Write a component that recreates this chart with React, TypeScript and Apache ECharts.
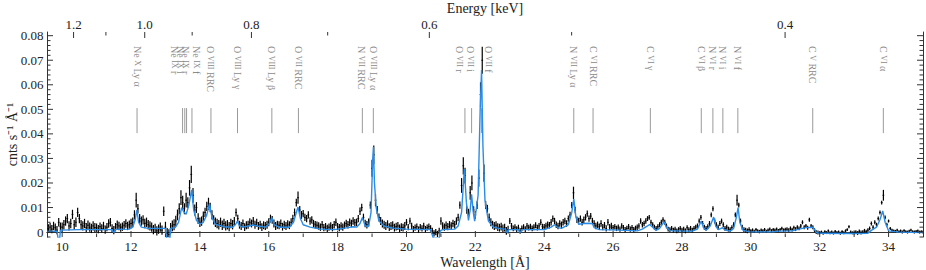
import React, { useEffect, useRef } from "react";
import * as echarts from "echarts";

const HC = 12.398; // keV * Angstrom
const X_MIN = 9.56;
const X_MAX = 35.0;
const Y_MIN = -0.002;
const Y_MAX = 0.0815;

const WAVE_LABELS = [10, 12, 14, 16, 18, 20, 22, 24, 26, 28, 30, 32, 34];
const WAVE_MINOR = [11, 13, 15, 17, 19, 21, 23, 25, 27, 29, 31, 33];
const ENERGY_LABELS = [1.2, 1.0, 0.8, 0.6, 0.4];
const ENERGY_MINOR = [1.1, 0.9, 0.7, 0.5];
const Y_LABELS = [0, 0.01, 0.02, 0.03, 0.04, 0.05, 0.06, 0.07, 0.08];
const Y_MINOR = [-0.002, 0.002, 0.004, 0.006, 0.008, 0.012, 0.014, 0.016, 0.018, 0.022, 0.024, 0.026, 0.028, 0.032, 0.034, 0.036, 0.038, 0.042, 0.044, 0.046, 0.048, 0.052, 0.054, 0.056, 0.058, 0.062, 0.064, 0.066, 0.068, 0.072, 0.074, 0.076, 0.078];

// observed spectrum, bins of 0.05 A starting at 9.60 A, in units of 1e-4 cnts/s/A
const DATA_START = 9.6;
const DATA_STEP = 0.05;
const COUNTS = [
  15, 20, 12, 25, 18, 8, 40, 22,
  20, 30, 45, 55, 25, 35, 72, 30, 40, 80, 55, 30, 25, 35, 18, 28, 20, 15, 25, 18,
  18, 12, 22, 15, 25, 10, 20, 35, 40, 15, 8, 20, 30, 25, 18, 22, 28, 35, 25, 30,
  35, 40, 70, 130, 95, 55, 45, 50, 35, 40, 30, 25, 20, 10, 15, 5, 12, 20, 8, 85,
  20, -5, -10, 15, 25, 30, 45, 70, 95, 140, 120, 95, 130, 120, 180, 235, 150, 90, 100, 55,
  40, 45, 65, 80, 105, 115, 100, 70, 50, 40, 35, 30, 40, 28, 35, 25, 30, 22, 35, 30,
  45, 80, 55, 30, 25, 35, 20, 28, 30, 40, 35, 45, 30, 38, 25, 30, 20, 28, 25, 30,
  40, 55, 50, 35, 25, 30, 28, 35, 22, 30, 25, 32, 28, 40, 55, 80, 120, 140, 90, 70,
  75, 60, 55, 70, 45, 50, 35, 30, 28, 25, 20, 30, 18, 22, 15, 20, 25, 18, 30, 40,
  22, 18, 25, 20, 28, 35, 30, 40, 35, 45, 38, 40, 55, 85, 100, 60, 35, 30, 40, 110,
  260, 315, 130, 90, 60, 45, 35, 30, 25, 32, 20, 25, 28, 18, 22, 25, 15, 20, 18, 25,
  40, 20, 45, 25, 12, 18, 22, 10, 20, 15, 25, 12, 18, 22, 15, 5, -5, 0, -8, 5,
  45, 25, 20, 28, 22, 30, 25, 35, 30, 45, 60, 110, 190, 270, 230, 90, 80, 160, 200, 90,
  70, 110, 220, 560, 700, 240, 110, 95, 60, 40, 30, 25, 28, 20, 18, 22, 15, 18, 5, 10,
  45, 25, 15, 20, 12, 18, 5, 15, 20, 12, 25, 18, 22, 15, 20, 28, 18, 25, 40, 22,
  20, 25, 30, 28, 40, 55, 45, 30, 25, 35, 30, 40, 45, 35, 55, 70, 110, 160, 90, 50,
  45, 55, 40, 50, 60, 75, 55, 65, 45, 35, 25, 30, 22, 35, 20, 28, 15, 40, 20, 25,
  18, 22, 15, 20, 12, 25, 18, 10, 15, 22, 12, 18, 10, 15, 20, 25, 45, 30, 35, 45,
  55, 60, 40, 30, 20, 15, 22, 30, 40, 50, 40, 25, 12, 10, 15, 8, 12, 5, 10, 15,
  8, 12, 5, 18, 10, 15, 8, 15, 20, 25, 45, 60, 35, 20, 15, 22, 35, 70, 95, 45,
  30, 20, 35, 45, 30, 15, 20, 12, 10, 18, 30, 70, 130, 110, 45, 20, 10, 8, 5, 10,
  5, 8, 3, 10, 5, 2, 8, 5, 10, 3, 8, 12, 5, 10, 8, 12, 6, 10, 15, 8,
  10, 12, 8, 15, 10, 18, 12, 20, 15, 25, 40, 20, 25, 18, 50, 25, 20, 8, 0, -2,
  -3, 0, -5, 2, -2, 5, -3, 0, -4, 3, -2, 0, -5, 2, -3, 5, 10, 22, 0, -3,
  -2, 0, -4, 3, -2, 0, 5, 2, 8, 15, 35, 20, 40, 30, 55, 80, 120, 150, 60, 30,
  45, 15, 8, 5, 3, 8, 2, 5, 0, 6, 2, 0, 4, 8, 2, 0, 3, 5, 0, 2,
  0,
];
// 1-sigma errors (1e-4 units) per whole Angstrom, starting at 9 A
const ERR_FIRST_ANGSTROM = 9;
const ERR_BY_ANGSTROM = [17, 19, 17, 19, 22, 19, 16, 16, 15, 15, 16, 13, 15, 16, 12, 13, 13, 11, 10, 10, 10, 7, 8, 6, 8, 6, 6];
// larger errors on the bright line bins [wavelength, error]
const PEAK_ERR = [
  [12.15, 30], [13.45, 30], [13.5, 28], [13.6, 30], [13.7, 32], [13.75, 35], [13.8, 30],
  [14.25, 25], [16.85, 25], [19.0, 35], [19.05, 38], [19.1, 25], [21.6, 30], [21.65, 35],
  [21.7, 32], [21.85, 28], [21.9, 30], [22.1, 35], [22.15, 50], [22.2, 55], [22.25, 35],
  [24.85, 25], [29.6, 22], [33.85, 22],
];

// best-fit model curve [wavelength A, 1e-4 cnts/s/A]
const MODEL = [
  [9.56, 3], [9.85, 4], [9.88, -25], [9.93, -25], [9.95, 8], [10.5, 10], [11.0, 10], [11.45, 10],
  [11.48, 0], [11.52, 0], [11.55, 11], [11.95, 12], [12.05, 20], [12.12, 50], [12.17, 90],
  [12.22, 40], [12.3, 20], [12.5, 15], [13.0, 15], [13.03, -25], [13.13, -25], [13.15, 15],
  [13.28, 18], [13.38, 40], [13.47, 100], [13.52, 85], [13.6, 72], [13.68, 110], [13.76, 172],
  [13.82, 90], [13.9, 48], [14.0, 32], [14.1, 40], [14.2, 70], [14.28, 116], [14.35, 60],
  [14.45, 32], [14.7, 22], [14.95, 20], [15.03, 30], [15.09, 45], [15.15, 25], [15.25, 20],
  [15.45, 26], [15.55, 29], [15.7, 24], [15.9, 20], [16.02, 35], [16.09, 59], [16.16, 30],
  [16.3, 20], [16.6, 20], [16.72, 40], [16.8, 80], [16.85, 102], [16.92, 55], [17.0, 30],
  [17.2, 20], [17.5, 12], [17.9, 10], [18.3, 18], [18.45, 22], [18.55, 20], [18.65, 35],
  [18.72, 59], [18.8, 25], [18.9, 22], [18.97, 80], [19.02, 300], [19.04, 346], [19.07, 200],
  [19.12, 100], [19.2, 45], [19.35, 25], [19.6, 16], [20.0, 12], [20.7, 10], [20.78, -25],
  [20.95, -25], [20.98, 5], [21.05, 10], [21.4, 12], [21.5, 25], [21.6, 80], [21.68, 257],
  [21.74, 120], [21.8, 48], [21.85, 90], [21.89, 154], [21.94, 80], [21.98, 45], [22.08, 150],
  [22.14, 500], [22.18, 660], [22.22, 350], [22.28, 127], [22.38, 45], [22.52, 20], [22.72, 14],
  [22.88, 12], [22.9, 0], [22.95, 0], [22.97, 10], [23.25, 10], [23.28, 0], [23.32, 0],
  [23.35, 10], [24.0, 10], [24.2, 20], [24.3, 30], [24.4, 18], [24.5, 15], [24.7, 30],
  [24.8, 80], [24.86, 134], [24.92, 60], [25.0, 32], [25.15, 35], [25.3, 36], [25.4, 34],
  [25.45, 18], [25.6, 10], [26.2, 8], [26.7, 5], [26.85, 12], [27.0, 25], [27.06, 31],
  [27.15, 20], [27.25, 7], [27.35, 15], [27.48, 42], [27.55, 20], [27.65, 6], [28.0, 4],
  [28.3, 4], [28.45, 12], [28.56, 45], [28.62, 20], [28.7, 7], [28.82, 25], [28.92, 61],
  [28.98, 25], [29.05, 10], [29.12, 14], [29.18, 18], [29.25, 8], [29.4, 4], [29.5, 15],
  [29.58, 60], [29.63, 100], [29.68, 40], [29.77, 8], [29.96, 1], [30.63, 1], [30.8, 4],
  [31.2, 5], [31.4, 12], [31.6, 18], [31.8, 20], [31.85, 10], [31.9, -1], [32.0, -5],
  [33.0, -6], [33.4, -5], [33.5, 7], [33.65, 20], [33.75, 50], [33.83, 86], [33.9, 40],
  [34.0, 5], [34.3, 0], [35.0, -2],
];

// line identifications
const ANNOT_ELEMENT = ["Ne", "Ne", "Ne", "Ne", "Ne", "O", "O", "O", "O", "N", "O", "O", "O", "O", "N", "C", "C", "C", "N", "N", "N", "C", "C"];
const ANNOT_STAGE = ["x", "ix", "ix", "ix", "ix", "viii", "viii", "viii", "vii", "vii", "viii", "vii", "vii", "vii", "vii", "vi", "vi", "vi", "vi", "vi", "vi", "v", "vi"];
const ANNOT_LINE = ["Ly α", "r", "i", "r", "f", "RRC", "Ly γ", "Ly β", "RRC", "RRC", "Ly α", "r", "i", "f", "Ly α", "RRC", "γ", "β", "r", "i", "f", "RRC", "α"];
const ANNOT_WAVE = [12.175, 13.497, 13.561, 13.613, 13.77, 14.321, 15.093, 16.09, 16.862, 18.718, 19.037, 21.697, 21.891, 22.181, 24.858, 25.418, 27.082, 28.561, 28.898, 29.188, 29.623, 31.798, 33.848];
const ANNOT_LABEL_WAVE = [12.175, 13.271, 13.423, 13.592, 13.915, 14.321, 15.093, 16.09, 16.862, 18.7, 19.037, 21.531, 21.862, 22.393, 24.858, 25.418, 27.082, 28.561, 28.898, 29.188, 29.623, 31.798, 33.848];

const FONT = "Liberation Serif";
const AXIS_COLOR = "#333";
const MODEL_COLOR = "#2a8ce6";

function errorFor(wave: number): number {
  for (const [w, e] of PEAK_ERR) {
    if (Math.abs(w - wave) < 1e-6) return e;
  }
  return ERR_BY_ANGSTROM[Math.floor(wave) - ERR_FIRST_ANGSTROM];
}

export default function App() {
  const ref = useRef<HTMLDivElement>(null);

  useEffect(() => {
    if (!ref.current) return;
    const chart = echarts.init(ref.current, undefined, { renderer: "svg" });

    const errData = COUNTS.map((c, i) => {
      const wave = +(DATA_START + i * DATA_STEP).toFixed(2);
      const e = errorFor(wave);
      return [wave, (c - e) * 1e-4, (c + e) * 1e-4, c * 1e-4];
    });
    const modelData = MODEL.map(([w, v]) => [w, v * 1e-4]);
    const annotData = ANNOT_WAVE.map((w, i) => [w, ANNOT_LABEL_WAVE[i]]);

    const energyWaves = ENERGY_LABELS.map((e) => HC / e);
    const energyMinorWaves = ENERGY_MINOR.map((e) => HC / e);

    // tick marks: [side, value, major?]  side 0 bottom, 1 top, 2 left, 3 right
    const tickData: number[][] = [];
    WAVE_LABELS.forEach((v) => tickData.push([0, v, 1]));
    WAVE_MINOR.forEach((v) => tickData.push([0, v, 0]));
    energyWaves.forEach((v) => tickData.push([1, v, 1]));
    energyMinorWaves.forEach((v) => tickData.push([1, v, 0]));
    Y_LABELS.forEach((v) => { tickData.push([2, v, 1]); tickData.push([3, v, 1]); });
    Y_MINOR.forEach((v) => { tickData.push([2, v, 0]); tickData.push([3, v, 0]); });

    const labelStyle = { fontFamily: FONT, fontSize: 13, color: "#222" };
    const nameStyle = { fontFamily: FONT, fontSize: 14, color: "#222" };
    const line = { color: AXIS_COLOR, width: 1 };

    const baseAxis = {
      type: "value",
      axisTick: { show: false },
      splitLine: { show: false },
      nameMoveOverlap: false,
    };

    const option: any = {
      animation: false,
      grid: { left: 47, right: 3, top: 32, bottom: 33, containLabel: false, outerBoundsMode: "none" },
      xAxis: [
        {
          ...baseAxis, position: "bottom", min: X_MIN, max: X_MAX,
          axisLine: { show: true, lineStyle: line },
          axisLabel: { show: true, customValues: WAVE_LABELS, margin: 3, ...labelStyle },
          name: "Wavelength [Å]", nameLocation: "middle", nameGap: 18, nameTextStyle: nameStyle,
        },
        {
          ...baseAxis, position: "top", min: X_MIN, max: X_MAX,
          axisLine: { show: true, lineStyle: line },
          axisLabel: {
            show: true, customValues: energyWaves, margin: 1, ...labelStyle,
            formatter: (v: number) => (HC / v).toFixed(1),
          },
          name: "Energy [keV]", nameLocation: "middle", nameGap: 17, nameTextStyle: nameStyle,
        },
      ],
      yAxis: [
        {
          ...baseAxis, position: "left", min: Y_MIN, max: Y_MAX,
          axisLine: { show: true, lineStyle: line },
          axisLabel: {
            show: true, customValues: Y_LABELS, margin: 3.5, ...labelStyle,
            formatter: (v: number) => (Math.abs(v) < 1e-9 ? "0" : v.toFixed(2)),
          },
          name: "cnts s⁻¹ Å⁻¹", nameLocation: "middle", nameGap: 28, nameTextStyle: nameStyle,
        },
        {
          ...baseAxis, position: "right", min: Y_MIN, max: Y_MAX,
          axisLine: { show: true, lineStyle: line },
          axisLabel: { show: false },
        },
      ],
      series: [
        {
          type: "custom",
          name: "data",
          xAxisIndex: 0, yAxisIndex: 0,
          clip: true,
          encode: { x: 0, y: [1, 2] },
          data: errData,
          renderItem: (params: any, api: any) => {
            const w = api.value(0);
            const lo = api.coord([w, api.value(1)]);
            const hi = api.coord([w, api.value(2)]);
            const l = api.coord([w - DATA_STEP / 2, api.value(3)]);
            const r = api.coord([w + DATA_STEP / 2, api.value(3)]);
            return {
              type: "group",
              children: [
                { type: "line", shape: { x1: lo[0], y1: lo[1], x2: hi[0], y2: hi[1] }, style: { stroke: "#000", lineWidth: 1.2 } },
                { type: "line", shape: { x1: l[0], y1: l[1], x2: r[0], y2: r[1] }, style: { stroke: "#000", lineWidth: 1 } },
              ],
            };
          },
          z: 2,
        },
        {
          type: "line",
          name: "model",
          xAxisIndex: 0, yAxisIndex: 0,
          data: modelData,
          showSymbol: false,
          symbol: "none",
          lineStyle: { color: MODEL_COLOR, width: 1.4 },
          z: 3,
        },
        {
          type: "custom",
          name: "lines",
          xAxisIndex: 0, yAxisIndex: 0,
          clip: false,
          encode: { x: [0, 1] },
          data: annotData,
          renderItem: (params: any, api: any) => {
            const i = params.dataIndex;
            const p1 = api.coord([api.value(0), 0.0403]);
            const p2 = api.coord([api.value(0), 0.0505]);
            const pt = api.coord([api.value(1), 0.0758]);
            const text = `${ANNOT_ELEMENT[i]} {sc|${ANNOT_STAGE[i].toUpperCase()}} ${ANNOT_LINE[i]}`;
            return {
              type: "group",
              children: [
                { type: "line", shape: { x1: p1[0], y1: p1[1], x2: p2[0], y2: p2[1] }, style: { stroke: "#9a9a9a", lineWidth: 1 } },
                {
                  type: "text", x: pt[0], y: pt[1], rotation: -Math.PI / 2,
                  style: {
                    text, fill: "#8a8a8a", fontFamily: FONT, fontSize: 10,
                    align: "left", verticalAlign: "middle",
                    rich: { sc: { fontFamily: FONT, fontSize: 8, fill: "#8a8a8a" } },
                  },
                },
              ],
            };
          },
          z: 1,
        },
        {
          type: "custom",
          name: "ticks",
          xAxisIndex: 0, yAxisIndex: 0,
          clip: false,
          encode: { x: -1, y: -1 },
          data: tickData,
          renderItem: (params: any, api: any) => {
            const side = api.value(0);
            const v = api.value(1);
            const major = api.value(2) === 1;
            let p: number[];
            let dx = 0;
            let dy = 0;
            const len = major ? 6 : 3.5;
            if (side === 0) { p = api.coord([v, Y_MIN]); dy = -len; }
            else if (side === 1) { p = api.coord([v, Y_MAX]); dy = len; }
            else if (side === 2) { p = api.coord([X_MIN, v]); dx = len; }
            else { p = api.coord([X_MAX, v]); dx = -len; }
            return {
              type: "line",
              shape: { x1: p[0], y1: p[1], x2: p[0] + dx, y2: p[1] + dy },
              style: { stroke: AXIS_COLOR, lineWidth: 1 },
            };
          },
          z: 5,
        },
      ],
    };

    chart.setOption(option);
    return () => chart.dispose();
  }, []);

  return <div ref={ref} style={{ position: "fixed", left: 0, top: 0, width: 926, height: 270, background: "#fff" }} />;
}
